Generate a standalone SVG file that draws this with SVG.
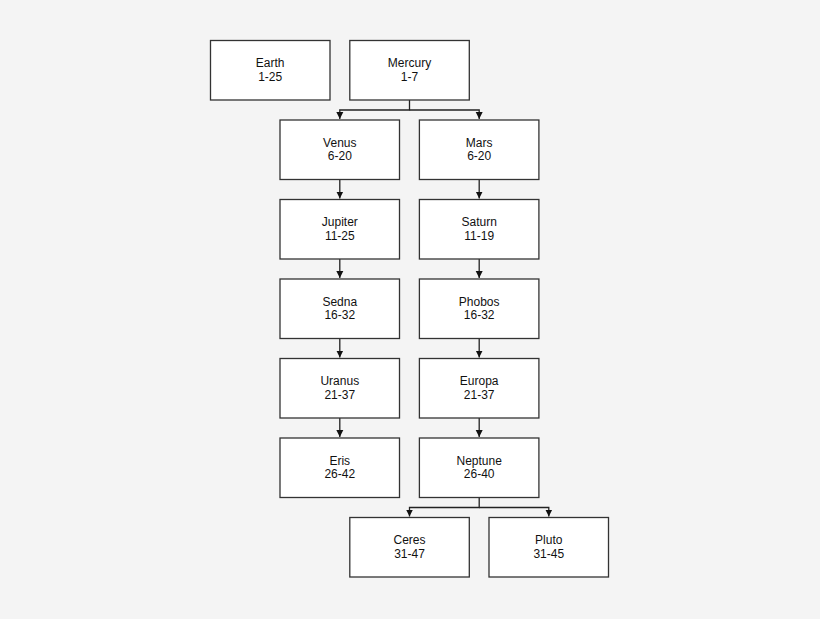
<svg xmlns="http://www.w3.org/2000/svg" width="820" height="619" viewBox="0 0 820 619">
<defs>
<style>
.box{fill:#ffffff;stroke:#333333;stroke-width:1.3}
.lbl{font-family:"Liberation Sans",Arial,sans-serif;font-size:12px;fill:#111111;text-anchor:middle}
.edge{fill:none;stroke:#222222;stroke-width:1.3}
</style>
<marker id="arr" markerWidth="8" markerHeight="8" refX="7" refY="4" orient="auto" markerUnits="userSpaceOnUse">
<path d="M0,0.5 L7,4 L0,7.5 Z" fill="#111111"/>
</marker>
</defs>
<rect width="820" height="619" fill="#f4f4f4"/>
<g id="connectors">
<path class="edge" d="M409.5,100 V110 H339.8 V119" marker-end="url(#arr)"/>
<path class="edge" d="M409.5,110 H479.2 V119" marker-end="url(#arr)"/>
<path class="edge" d="M339.8,179.5 V198.5" marker-end="url(#arr)"/>
<path class="edge" d="M339.8,259 V278" marker-end="url(#arr)"/>
<path class="edge" d="M339.8,338.5 V357.5" marker-end="url(#arr)"/>
<path class="edge" d="M339.8,418 V437" marker-end="url(#arr)"/>
<path class="edge" d="M479.2,179.5 V198.5" marker-end="url(#arr)"/>
<path class="edge" d="M479.2,259 V278" marker-end="url(#arr)"/>
<path class="edge" d="M479.2,338.5 V357.5" marker-end="url(#arr)"/>
<path class="edge" d="M479.2,418 V437" marker-end="url(#arr)"/>
<path class="edge" d="M479.2,497.5 V507.5 H409.5 V516.5" marker-end="url(#arr)"/>
<path class="edge" d="M479.2,507.5 H548.8 V516.5" marker-end="url(#arr)"/>
</g>
<g id="earth"><rect class="box" x="210.5" y="40.5" width="119.5" height="59.5"/><text class="lbl" x="270.2" y="67">Earth</text><text class="lbl" x="270.2" y="80.5">1-25</text></g>
<g id="mercury"><rect class="box" x="349.8" y="40.5" width="119.5" height="59.5"/><text class="lbl" x="409.5" y="67">Mercury</text><text class="lbl" x="409.5" y="80.5">1-7</text></g>
<g id="venus"><rect class="box" x="280" y="120" width="119.5" height="59.5"/><text class="lbl" x="339.8" y="146.5">Venus</text><text class="lbl" x="339.8" y="160">6-20</text></g>
<g id="mars"><rect class="box" x="419.4" y="120" width="119.5" height="59.5"/><text class="lbl" x="479.2" y="146.5">Mars</text><text class="lbl" x="479.2" y="160">6-20</text></g>
<g id="jupiter"><rect class="box" x="280" y="199.5" width="119.5" height="59.5"/><text class="lbl" x="339.8" y="226">Jupiter</text><text class="lbl" x="339.8" y="239.5">11-25</text></g>
<g id="saturn"><rect class="box" x="419.4" y="199.5" width="119.5" height="59.5"/><text class="lbl" x="479.2" y="226">Saturn</text><text class="lbl" x="479.2" y="239.5">11-19</text></g>
<g id="sedna"><rect class="box" x="280" y="279" width="119.5" height="59.5"/><text class="lbl" x="339.8" y="305.5">Sedna</text><text class="lbl" x="339.8" y="319">16-32</text></g>
<g id="phobos"><rect class="box" x="419.4" y="279" width="119.5" height="59.5"/><text class="lbl" x="479.2" y="305.5">Phobos</text><text class="lbl" x="479.2" y="319">16-32</text></g>
<g id="uranus"><rect class="box" x="280" y="358.5" width="119.5" height="59.5"/><text class="lbl" x="339.8" y="385">Uranus</text><text class="lbl" x="339.8" y="398.5">21-37</text></g>
<g id="europa"><rect class="box" x="419.4" y="358.5" width="119.5" height="59.5"/><text class="lbl" x="479.2" y="385">Europa</text><text class="lbl" x="479.2" y="398.5">21-37</text></g>
<g id="eris"><rect class="box" x="280" y="438" width="119.5" height="59.5"/><text class="lbl" x="339.8" y="464.5">Eris</text><text class="lbl" x="339.8" y="478">26-42</text></g>
<g id="neptune"><rect class="box" x="419.4" y="438" width="119.5" height="59.5"/><text class="lbl" x="479.2" y="464.5">Neptune</text><text class="lbl" x="479.2" y="478">26-40</text></g>
<g id="ceres"><rect class="box" x="349.8" y="517.5" width="119.5" height="59.5"/><text class="lbl" x="409.5" y="544">Ceres</text><text class="lbl" x="409.5" y="557.5">31-47</text></g>
<g id="pluto"><rect class="box" x="489" y="517.5" width="119.5" height="59.5"/><text class="lbl" x="548.8" y="544">Pluto</text><text class="lbl" x="548.8" y="557.5">31-45</text></g>
</svg>
